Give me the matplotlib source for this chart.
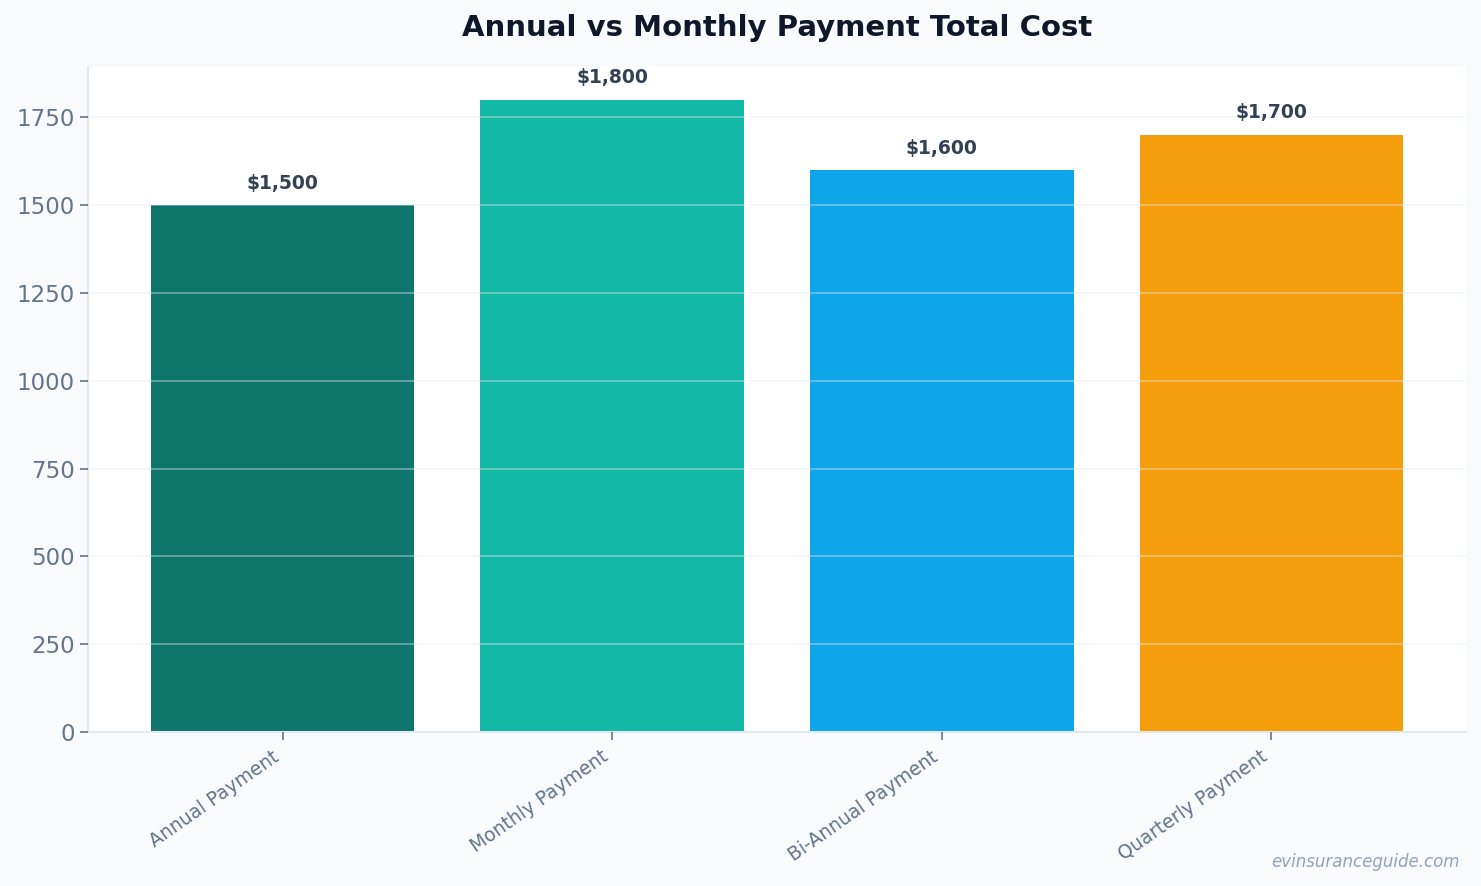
import matplotlib
matplotlib.use("Agg")
import matplotlib.pyplot as plt

categories = ["Annual Payment", "Monthly Payment", "Bi-Annual Payment", "Quarterly Payment"]
values = [1500, 1800, 1600, 1700]
colors = ["#0f766e", "#14b8a6", "#0ea5e9", "#f59e0b"]
title = "Annual vs Monthly Payment Total Cost"
watermark = "evinsuranceguide.com"

plt.rcParams['font.family'] = ['DejaVu Sans']

fig = plt.figure(figsize=(14.81, 8.86), dpi=100, facecolor="#f8fafc")
ax = fig.add_axes([88/1481, 1-732/886, (1466-88)/1481, (732-67)/886])
ax.set_facecolor("white")

x = range(len(categories))
bars = ax.bar(x, values, width=0.8, color=colors, zorder=2)
ax.set_ylim(0, max(values) * 1.052)

for b, v in zip(bars, values):
    ax.annotate(f"${v:,.0f}", (b.get_x() + b.get_width() / 2, v),
                xytext=(0, 9), textcoords="offset points",
                ha="center", va="bottom", fontsize=13.5, fontweight="bold",
                color="#334155", zorder=4)

ax.set_xticks(list(x))
ax.set_xticklabels(categories, rotation=35, ha="right",
                   fontsize=13.5, color="#64748b")
ax.tick_params(axis="y", labelsize=16.5, labelcolor="#64748b", color="#64748b", length=6, width=1.2)
ax.tick_params(axis="x", color="#64748b", length=6, width=1.2, pad=5)

ax.yaxis.grid(True, color="#e2e8f0", alpha=0.45, linewidth=1.2, zorder=3)
ax.set_axisbelow(False)
for s in ["top", "right"]:
    ax.spines[s].set_visible(False)
for s in ["left", "bottom"]:
    ax.spines[s].set_color("#e2e8f0")
    ax.spines[s].set_linewidth(1.5)

fig.text(777/1481, 1 - 28/886, title, ha="center", va="center", fontsize=21,
         fontweight="bold", color="#0f172a")
fig.text(1460/1481, 1 - 862/886, watermark, ha="right", va="center", fontsize=12,
         style="italic", color="#94a3b8")

fig.savefig("out.png", dpi=100, facecolor=fig.get_facecolor())
